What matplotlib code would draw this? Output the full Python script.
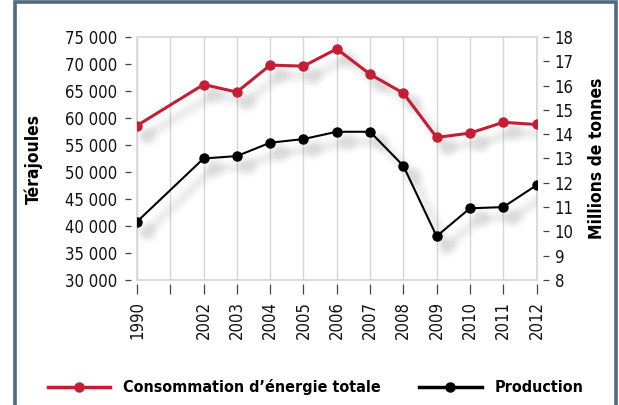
import matplotlib
matplotlib.use("Agg")
import matplotlib.pyplot as plt
from matplotlib.lines import Line2D
from matplotlib.patches import Rectangle
from matplotlib import transforms

plt.rcParams['font.family'] = ['DejaVu Sans']
plt.rcParams['font.stretch'] = 'condensed'

# données
annees = ['1990', '', '2002', '2003', '2004', '2005', '2006', '2007', '2008', '2009', '2010', '2011', '2012']
pos_donnees = [0, 2, 3, 4, 5, 6, 7, 8, 9, 10, 11, 12]
consommation = [58600, 66200, 64800, 69800, 69600, 72800, 68100, 64600, 56400, 57200, 59200, 58800]  # térajoules
production = [10.4, 13.0, 13.1, 13.65, 13.8, 14.1, 14.1, 12.7, 9.8, 10.95, 11.0, 11.9]  # millions de tonnes
yticks_gauche = list(range(30000, 75001, 5000))
yticks_droite = list(range(8, 19))

rouge = '#c41e35'
gris_cadre = '#d6d6d6'

fig = plt.figure(figsize=(6.19, 4.05), dpi=100)
ax = fig.add_axes([137/619, 1-280/405, 399.5/619, 243/405])
ax2 = ax.twinx()

# cadre gris clair, ticks décalés (avant les étiquettes : set_position remet les ticks à zéro)
for a in (ax, ax2):
    for s in a.spines.values():
        s.set_color('none')
ax.spines['left'].set_position(('outward', 4))
ax.spines['bottom'].set_position(('outward', 3))
ax2.spines['right'].set_position(('outward', 5))
ax.add_patch(Rectangle((0, 0), 1, 1, transform=ax.transAxes, fill=False,
                       ec=gris_cadre, lw=1.2, zorder=0.5, clip_on=False))

# ombres floues (plusieurs couches décalées)
def ombre(axe, x, y):
    off = transforms.offset_copy(axe.transData, fig=fig, x=10, y=-10, units='dots')
    for lw, a in [(12, 0.03), (8, 0.045), (4, 0.055)]:
        axe.plot(x, y, color='#777777', lw=lw, alpha=a, marker='o', ms=lw + 5,
                 mec='none', transform=off, solid_capstyle='round', zorder=1)

ombre(ax, pos_donnees, consommation)
ombre(ax2, pos_donnees, production)

ax.plot(pos_donnees, consommation, color=rouge, lw=2.2, marker='o', ms=6.5, zorder=3)
ax2.plot(pos_donnees, production, color='black', lw=1.5, marker='o', ms=6.5, zorder=3)

ax.set_xlim(0, 12)
ax.set_ylim(30000, 75000)
ax2.set_ylim(8, 18)
ax.set_xticks(range(len(annees)))
ax.set_xticklabels(annees)
ax.set_yticks(yticks_gauche)
ax.set_yticklabels([f"{v:,}".replace(',', ' ') for v in yticks_gauche])
ax2.set_yticks(yticks_droite)
ax2.set_yticklabels([str(v) for v in yticks_droite])

# grille verticale
ax.grid(axis='x', color=gris_cadre, lw=1)
ax.set_axisbelow(True)

ax.tick_params(axis='y', length=4.5, width=0.9, color='#444444', pad=6, labelcolor='#111111', labelsize=12)
ax.tick_params(axis='x', length=7, width=0.9, color='#444444', pad=5, labelcolor='#111111',
               labelsize=12, labelrotation=90)
ax2.tick_params(axis='y', length=4, width=0.9, color='#444444', pad=4, labelcolor='#111111', labelsize=12)

ax.set_ylabel('Térajoules', fontsize=12.5, fontweight='bold')
ax.yaxis.set_label_coords(-0.235, 0.5)
ax2.set_ylabel('Millions de tonnes', fontsize=12.5, fontweight='bold', rotation=90)
ax2.yaxis.set_label_coords(1.129, 0.5)

# légende
poignees = [Line2D([], [], color=rouge, lw=2.5, marker='o', ms=6.5),
            Line2D([], [], color='black', lw=2.5, marker='o', ms=6.5)]
fig.legend(poignees, ['Consommation d’énergie totale', 'Production'], loc='center',
           bbox_to_anchor=(0.51, 0.044), ncol=2, frameon=False, handlelength=3.9,
           columnspacing=2.4, prop={'weight': 'bold', 'size': 11.5, 'stretch': 'condensed'})

# bordure bleu-gris de l'encadré
fig.patches.append(Rectangle((14.5/619, -0.1), 601/619, 1.1 - 2/405, transform=fig.transFigure,
                             fill=False, ec='#4f6b7f', lw=2.6, figure=fig))

fig.savefig('out.png', dpi=100)
